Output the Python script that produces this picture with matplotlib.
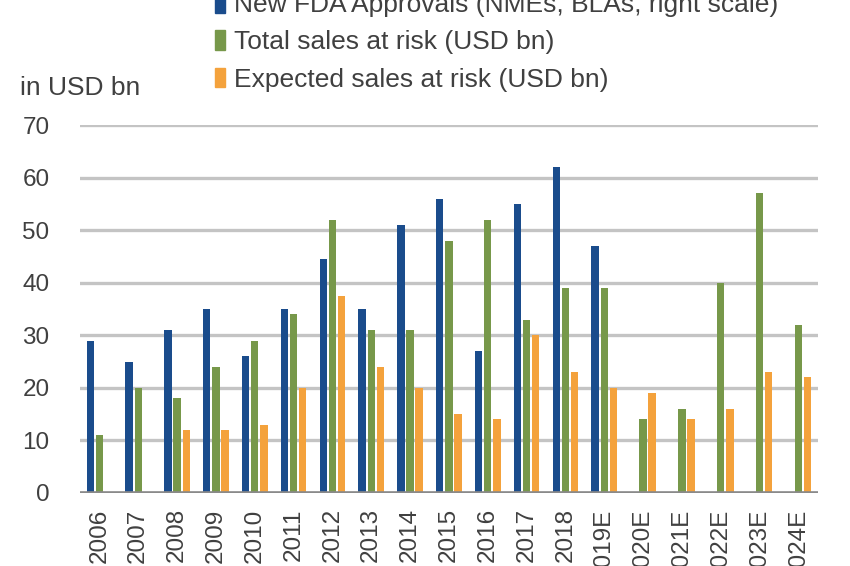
import numpy as np
import matplotlib.pyplot as plt
from matplotlib.patches import Patch

plt.rcParams['font.family'] = ['Liberation Sans', 'DejaVu Sans']

years = ['2006', '2007', '2008', '2009', '2010', '2011', '2012', '2013', '2014',
         '2015', '2016', '2017', '2018', '2019E', '2020E', '2021E', '2022E',
         '2023E', '2024E']
fda_approvals = [29, 25, 31, 35, 26, 35, 44.5, 35, 51, 56, 27, 55, 62, 47,
                 np.nan, np.nan, np.nan, np.nan, np.nan]
total_sales = [11, 20, 18, 24, 29, 34, 52, 31, 31, 48, 52, 33, 39, 39,
               14, 16, 40, 57, 32]
expected_sales = [np.nan, np.nan, 12, 12, 13, 20, 37.5, 24, 20, 15, 14, 30, 23, 20,
                  19, 14, 16, 23, 22]

c_blue = '#1A4C8C'
c_green = '#77984A'
c_orange = '#F4A23C'
c_text = '#404040'

fig = plt.figure(figsize=(8.5, 5.66), dpi=100)
ax = fig.add_axes([0.0941, 0.129, 0.868, 0.650])

x = np.arange(len(years))
w = 0.19
step = 0.235
ax.bar(x - step, fda_approvals, w, color=c_blue, zorder=3)
ax.bar(x, total_sales, w, color=c_green, zorder=3)
ax.bar(x + step, expected_sales, w, color=c_orange, zorder=3)

ax.set_xlim(-0.5, len(years) - 0.5)
ax.set_ylim(0, 70)
ax.set_yticks(range(0, 71, 10))
ax.yaxis.grid(True, color='#C4C4C4', linewidth=2.4, zorder=0)
ax.axhline(0, color='#8A8A8A', linewidth=2.6, zorder=4)
for s in ax.spines.values():
    s.set_visible(False)

ax.set_xticks(x)
ax.set_xticklabels(years, rotation=90, va='top', ha='center')
ax.tick_params(axis='both', length=0, labelsize=17.5, colors=c_text)
ax.tick_params(axis='y', pad=22)
ax.tick_params(axis='x', pad=11)

fig.text(0.024, 0.844, 'in USD bn', fontsize=19, color=c_text, va='center')

handles = [Patch(color=c_blue), Patch(color=c_green), Patch(color=c_orange)]
labels = ['New FDA Approvals (NMEs, BLAs, right scale)',
          'Total sales at risk (USD bn)',
          'Expected sales at risk (USD bn)']
fig.legend(handles, labels, loc='lower left', bbox_to_anchor=(0.238, 0.815),
           frameon=False, fontsize=19, labelcolor=c_text, borderpad=0,
           handlelength=0.35, handleheight=0.75, handletextpad=0.35,
           labelspacing=0.5)

fig.savefig('out.png', dpi=100)
